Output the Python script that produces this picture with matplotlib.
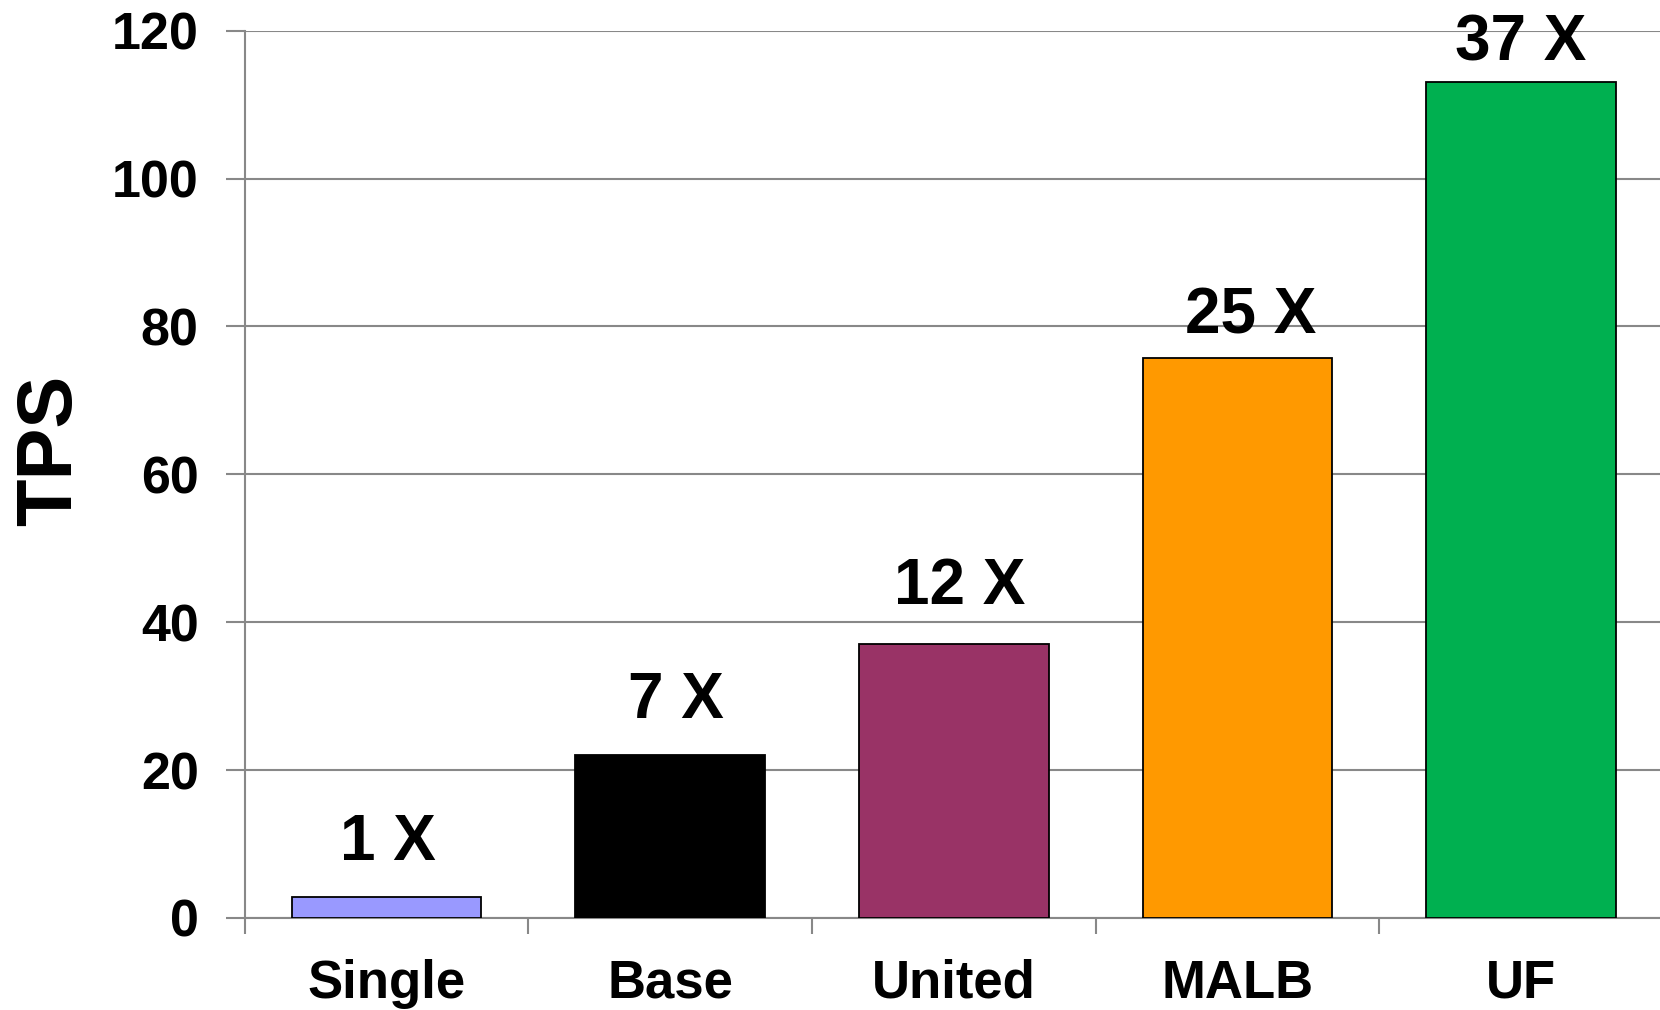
import matplotlib
matplotlib.use('Agg')
import matplotlib.pyplot as plt

categories = ['Single', 'Base', 'United', 'MALB', 'UF']
tps = [2.9, 22, 37, 75.7, 113]
speedup = ['1 X', '7 X', '12 X', '25 X', '37 X']
bar_colors = ['#9999FF', '#000000', '#993366', '#FF9900', '#00B050']
y_ticks = [0, 20, 40, 60, 80, 100, 120]

# labels were hand-placed in the original: nudge (dx, gap above bar) in pixels
label_dx_px = [2, 6, 6, 13, 0]
label_gap_px = [37, 37, 40, 25, 22]

plt.rcParams['font.family'] = ['Liberation Sans', 'DejaVu Sans']
plt.rcParams['font.weight'] = 'bold'

fig = plt.figure(figsize=(16.6, 10.1), dpi=100)
ax = fig.add_axes([0.1473, 0.0911, 0.8545, 0.8785])

x = list(range(len(categories)))
ax.bar(x, tps, width=0.668, color=bar_colors, edgecolor='black', linewidth=1.3, zorder=3)

for xi, v, lab, dx, gap in zip(x, tps, speedup, label_dx_px, label_gap_px):
    ax.annotate(lab, (xi, v), xytext=(dx * 0.72, gap * 0.72), textcoords='offset points',
                ha='center', va='baseline', fontsize=46, fontweight='bold')

ax.set_xlim(-0.5, len(categories) - 0.5)
ax.set_ylim(0, 120)
ax.set_yticks(y_ticks)
ax.set_yticklabels([str(t) for t in y_ticks], fontsize=37.5, fontweight='bold')
ax.tick_params(axis='y', length=14, width=1.5, color='#888888', pad=19)

# boundaries get tick marks, centres get the labels
ax.set_xticks([i - 0.5 for i in range(len(categories) + 1)])
ax.set_xticklabels([])
ax.set_xticks(x, minor=True)
ax.set_xticklabels(categories, minor=True, fontsize=38, fontweight='bold')
ax.tick_params(axis='x', which='major', length=11.5, width=1.5, color='#888888')
ax.tick_params(axis='x', which='minor', length=0, pad=29.5)

ax.grid(True, axis='y', color='#888888', linewidth=1.5, zorder=0)
ax.set_axisbelow(True)

ax.set_ylabel('TPS', fontsize=56, fontweight='bold', labelpad=18)
ax.yaxis.label.set_y(0.527)

for spine in ['top', 'right']:
    ax.spines[spine].set_visible(False)
for spine in ['left', 'bottom']:
    ax.spines[spine].set_color('#888888')
    ax.spines[spine].set_linewidth(1.5)

fig.savefig('out.png', dpi=100)
